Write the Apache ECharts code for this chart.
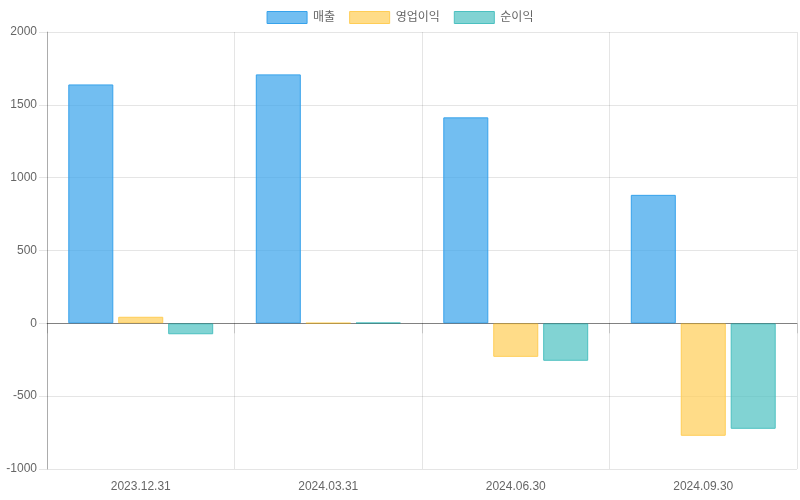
<!DOCTYPE html>
<html><head><meta charset="utf-8">
<script src="https://cdn.jsdelivr.net/npm/echarts@6/dist/echarts.min.js"></script>
<style>html,body{margin:0;padding:0;background:#fff}#c{width:800px;height:500px}</style>
</head><body><div id="c"></div>
<script>
const categories = ['2023.12.31', '2024.03.31', '2024.06.30', '2024.09.30'];
const seriesNames = ['매출', '영업이익', '순이익'];
const sales = [1640, 1709, 1414, 882];
const operatingProfit = [45, 2, -230, -772];
const netProfit = [-75, 4, -257, -724];
const yTicks = { min: -1000, max: 2000, interval: 500 };

const fills = ['rgba(54,162,235,0.7)', 'rgba(255,205,86,0.7)', 'rgba(75,192,192,0.7)'];
const borders = ['rgb(54,162,235)', 'rgb(255,205,86)', 'rgb(75,192,192)'];
const FONT = '"Liberation Sans", "Noto Sans CJK KR", Arial, sans-serif';
const values = [sales, operatingProfit, netProfit];

const chart = echarts.init(document.getElementById('c'), null, { renderer: 'canvas' });
chart.setOption({
  animation: false,
  textStyle: { fontFamily: FONT },
  legend: {
    top: 6, left: 'center', itemWidth: 40, itemHeight: 12, itemGap: 14, icon: 'rect',
    textStyle: { color: '#666', fontSize: 12, fontFamily: FONT, padding: [0, 0, 0, 1] },
    data: seriesNames.map((n, i) => ({ name: n, itemStyle: { color: fills[i], borderColor: borders[i], borderWidth: 1 } }))
  },
  grid: { left: 47, right: 3, top: 32, bottom: 31, containLabel: false },
  xAxis: {
    type: 'category', data: categories, boundaryGap: true,
    axisLine: { show: true, lineStyle: { color: 'rgba(0,0,0,0.25)' } },
    axisTick: { show: true, length: 10, alignWithLabel: false, lineStyle: { color: 'rgba(0,0,0,0.15)' } },
    axisLabel: { color: '#666', fontSize: 12, margin: 12, fontFamily: FONT },
    splitLine: { show: true, lineStyle: { color: 'rgba(0,0,0,0.1)' } }
  },
  yAxis: {
    type: 'value', min: yTicks.min, max: yTicks.max, interval: yTicks.interval,
    axisLine: { show: true, lineStyle: { color: 'rgba(0,0,0,0.25)' } },
    axisTick: { show: true, length: 8, lineStyle: { color: 'rgba(0,0,0,0.1)' } },
    axisLabel: { color: '#666', fontSize: 12, margin: 10, fontFamily: FONT, formatter: v => String(v) },
    splitLine: { show: true, lineStyle: { color: 'rgba(0,0,0,0.1)' } }
  },
  series: seriesNames.map((n, i) => ({
    name: n, type: 'bar', data: values[i], barWidth: 45, barGap: '11%',
    itemStyle: { color: fills[i], borderColor: borders[i], borderWidth: 1 },
    markLine: i === 0 ? {
      silent: true, symbol: 'none', label: { show: false },
      lineStyle: { color: 'rgba(0,0,0,0.25)', type: 'solid', width: 1 },
      data: [{ yAxis: 0 }]
    } : undefined
  }))
});
</script></body></html>
